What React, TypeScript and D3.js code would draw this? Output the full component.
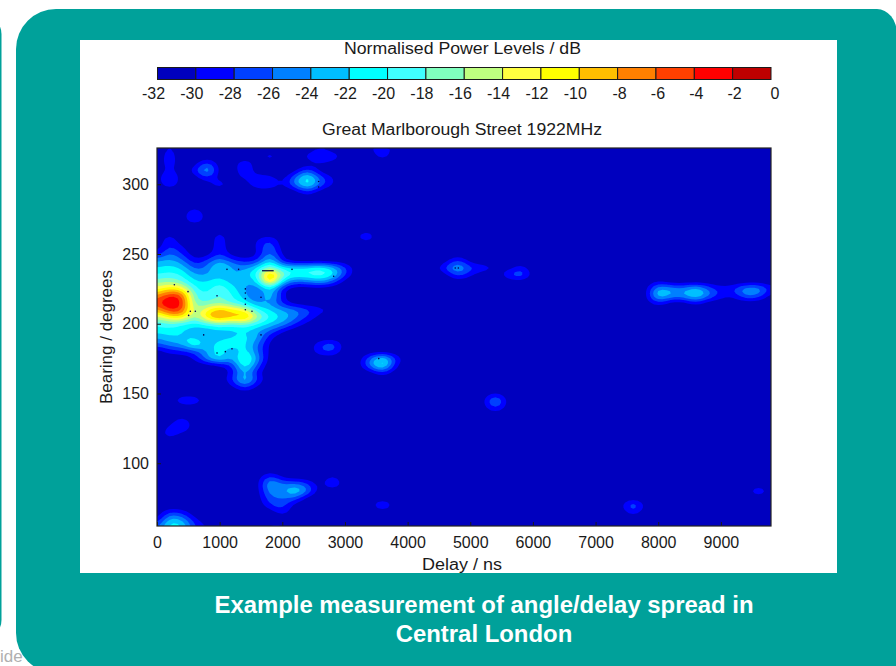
import React from 'react';
import * as d3 from 'd3';

const legendLevels = [-32, -30, -28, -26, -24, -22, -20, -18, -16, -14, -12, -10, -8, -6, -4, -2, 0];
const legendColours = ['#0000bf', '#0000ff', '#0040ff', '#0080ff', '#00bfff', '#00ffff', '#40ffff', '#80ffbf',
  '#bfff80', '#ffff40', '#ffff00', '#ffbf00', '#ff8000', '#ff4000', '#ff0000', '#bf0000'];
const delayTicks = [0, 1000, 2000, 3000, 4000, 5000, 6000, 7000, 8000, 9000];
const bearingTicks = [100, 150, 200, 250, 300];
const captionLines = ['Example measurement of angle/delay spread in', 'Central London'];

const delayStep = 200;
const bearingStep = 5;
const maxDelay = 9800;
const minBearing = 55;
const maxBearing = 325;
const floorLevel = -32;
const refine = 3; // contouring is done on a grid this many times finer, like the original's interpolated plot

const coreSpans: [number, number, number[]][] = [
  [265, 200, [-30, -32, -32, -32, -29]],
  [260, 200, [-28, -32, -32, -32, -28, -32, -32, -30, -27]],
  [255, 200, [-27, -30, -32, -32, -28, -32, -32, -30, -25]],
  [250, 0, [-30, -25, -28, -32, -32, -27, -32, -32, -31, -24, -31]],
  [245, 0, [-24, -23, -25, -30, -27, -24, -27, -29, -29, -20, -30]],
  [240, 0, [-22, -21, -22, -27, -26, -19, -24, -25, -21, -16, -21, -21, -21, -19, -22, -27]],
  [235, 0, [-20, -19, -20, -24, -24, -23, -25, -22, -21, -4, -17, -20, -19, -18, -20, -28]],
  [230, 0, [-17, -16, -18, -22, -22, -20, -23, -24, -23, -7, -23, -27, -26, -24, -27]],
  [225, 0, [-13, -10, -11, -20, -21, -18, -21, -24, -27, -21, -30]],
  [220, 0, [-8, -3, -4, -19, -20, -17, -20, -23, -28, -20, -30]],
  [215, 0, [-5, 0, -3, -18, -18, -17, -19, -21, -25, -24, -29]],
  [210, 0, [-9, -3, -4, -17, -12, -8, -11, -13, -20, -22, -24, -25, -27, -29, -30]],
  [205, 0, [-15, -11, -9, -18, -9, -5, -9, -6, -15, -20, -22, -25, -28, -31]],
  [200, 0, [-20, -18, -20, -21, -19, -17, -19, -17, -20, -22, -24, -28, -31]],
  [195, 0, [-21, -21, -22, -24, -24, -23, -23, -22, -24, -26, -30]],
  [190, 0, [-24, -22, -22, -22, -24, -23, -22, -21, -23, -30]],
  [185, 0, [-27, -25, -24, -18, -24, -20, -21, -21, -26, -31]],
  [180, 200, [-29, -29, -28, -24, -20, -25, -20, -26, -31]],
  [175, 600, [-30, -24, -20, -25, -17, -24]],
  [170, 1000, [-31, -29, -18, -27]],
  [165, 1200, [-30, -22, -30]],
  [160, 1200, [-28, -20, -28]],
  [155, 1200, [-31, -26, -31]],
];

const upperSpans: [number, number, number[]][] = [
  [325, 200, [-29]],
  [320, 200, [-28]],
  [315, 200, [-28]],
  [310, 200, [-29]],
  [305, 200, [-26]],
  [300, 200, [-27]],
  [315, 800, [-26]],
  [310, 600, [-29, -21]],
  [305, 800, [-27]],
  [300, 1000, [-27]],
  [295, 600, [-28]],
  [315, 1400, [-27]],
  [310, 1400, [-27]],
  [305, 1400, [-29]],
  [320, 1800, [-27]],
  [305, 1600, [-29, -29]],
  [300, 1600, [-27, -27, -31, -25, -19, -26, -30]],
  [305, 2200, [-26, -19, -27, -30]],
  [310, 2400, [-26]],
  [295, 2400, [-27]],
  [320, 2400, [-29, -26, -27]],
  [325, 2600, [-30]],
  [315, 2600, [-30]],
  [325, 3400, [-31, -27]],
  [320, 3600, [-28]],
  [280, 600, [-27]],
  [275, 600, [-26]],
];

const midSpans: [number, number, number[]][] = [
  [265, 3200, [-30, -29]],
  [260, 3200, [-30, -29]],
  [245, 4800, [-26]],
  [240, 4600, [-27, -22, -27, -28, -30]],
  [235, 4800, [-26, -30]],
  [235, 5600, [-28, -24]],
  [240, 5800, [-28]],
  [185, 2600, [-28, -25]],
  [180, 2600, [-28, -27]],
  [175, 3400, [-26, -19, -28]],
  [170, 3400, [-25, -18, -30]],
  [165, 3600, [-28]],
  [160, 5200, [-28]],
  [150, 5400, [-30]],
  [145, 5400, [-22]],
  [140, 5400, [-26]],
];

const lowerSpans: [number, number, number[]][] = [
  [145, 400, [-27, -27]],
  [135, 1400, [-28]],
  [130, 1600, [-28]],
  [130, 400, [-27]],
  [125, 200, [-29, -27]],
  [120, 200, [-28]],
  [110, 400, [-28]],
  [140, 2200, [-28]],
  [90, 1800, [-26, -31, -32, -32, -32, -29]],
  [85, 1800, [-22, -26, -25, -27, -32, -26]],
  [80, 1800, [-24, -25, -20, -25]],
  [75, 1800, [-26, -26, -26]],
  [70, 1800, [-28, -26]],
  [70, 3600, [-25]],
  [65, 2000, [-28]],
  [65, 200, [-28, -29]],
  [60, 200, [-22, -24, -30]],
  [55, 0, [-27, -20, -21, -28, -30]],
  [55, 1800, [-29, -29]],
  [70, 7600, [-23]],
  [65, 7600, [-28]],
  [80, 9600, [-26]],
];

const streakSpans: [number, number, number[]][] = [
  [230, 8000, [-30]],
  [225, 8000, [-22, -24, -25, -21, -26, -29, -28, -23, -23, -29]],
  [220, 8000, [-20, -24, -24, -20, -25, -29, -30, -25, -26]],
  [215, 8000, [-28, -32, -32, -29]],
];

// stray black contour points left in the original figure: [delay, bearing]
const strayPoints = [[277, 228], [495, 223], [532, 209], [612, 209], [505, 206], [745, 192], [958, 220],
  [1410, 225], [1410, 222], [1410, 218], [1410, 214], [1410, 210], [1516, 209], [1197, 182], [1091, 180],
  [958, 179], [1303, 239], [1117, 239], [2155, 239], [2820, 234], [1660, 219], [1660, 192], [4760, 240],
  [4810, 240], [3540, 175], [2580, 302], [2580, 298]];
const strayLine = [[1676, 238], [1862, 238]];

const buildGrid = () => {
  const cols = maxDelay / delayStep + 1;
  const rows = (maxBearing - minBearing) / bearingStep + 1;
  const coarse = new Array(cols * rows).fill(floorLevel);
  [...coreSpans, ...upperSpans, ...midSpans, ...lowerSpans, ...streakSpans].forEach(([bearing, start, levels]) => {
    const row = (maxBearing - bearing) / bearingStep;
    levels.forEach((level, i) => {
      const col = start / delayStep + i;
      if (level > floorLevel) coarse[row * cols + col] = level;
    });
  });

  const fineCols = (cols - 1) * refine + 1;
  const fineRows = (rows - 1) * refine + 1;
  const values = new Float64Array(fineCols * fineRows);
  for (let j = 0; j < fineRows; j++) {
    const r0 = Math.floor(j / refine);
    const r1 = Math.min(r0 + 1, rows - 1);
    const v = j / refine - r0;
    for (let i = 0; i < fineCols; i++) {
      const c0 = Math.floor(i / refine);
      const c1 = Math.min(c0 + 1, cols - 1);
      const u = i / refine - c0;
      values[j * fineCols + i] =
        (coarse[r0 * cols + c0] * (1 - u) + coarse[r0 * cols + c1] * u) * (1 - v) +
        (coarse[r1 * cols + c0] * (1 - u) + coarse[r1 * cols + c1] * u) * v;
    }
  }
  d3.blur2({ data: values, width: fineCols, height: fineRows }, 0.7);
  return { cols: fineCols, rows: fineRows, values };
};

export default function App() {
  const svgRef = React.useRef<SVGSVGElement>(null);

  React.useEffect(() => {
    const svg = d3.select(svgRef.current);
    svg.selectAll('*').remove();

    const font = '"Liberation Sans", Arial, sans-serif';
    const teal = '#00a19a';
    const ink = '#1a1a1a';

    const defs = svg.append('defs');
    defs.append('filter').attr('id', 'soft').append('feGaussianBlur').attr('stdDeviation', 0.6);
    defs.append('clipPath').attr('id', 'plotClip').append('rect')
      .attr('x', 157).attr('y', 148).attr('width', 614).attr('height', 378);

    // slide background
    svg.append('rect').attr('width', 896).attr('height', 666).attr('fill', '#ffffff');
    svg.append('rect').attr('x', -40).attr('y', 14).attr('width', 41.5).attr('height', 626)
      .attr('rx', 20).attr('fill', teal);
    svg.append('path')
      .attr('d', 'M16 49 A40 40 0 0 1 56 9 L877 9 A20 25 0 0 1 897 34 L897 673 L56 673 A40 40 0 0 1 16 633 Z')
      .attr('fill', teal);
    svg.append('text').attr('x', 0).attr('y', 662).attr('font-family', font).attr('font-size', 17)
      .attr('fill', '#b0b0b0').text('ide');
    svg.append('rect').attr('x', 80).attr('y', 40).attr('width', 757).attr('height', 533).attr('fill', '#ffffff');

    svg.append('g').attr('fill', '#ffffff').attr('font-family', font).attr('font-weight', 'bold')
      .attr('font-size', 23.9).attr('text-anchor', 'middle')
      .selectAll('text').data(captionLines).join('text')
      .attr('x', 484).attr('y', (d, i) => 613 + i * 28.5).text(d => d);

    const label = (text: string, px: number, py: number, length: number) =>
      svg.append('text').attr('x', px).attr('y', py).attr('text-anchor', 'middle')
        .attr('font-family', font).attr('font-size', 16).attr('fill', ink)
        .attr('textLength', length).attr('lengthAdjust', 'spacingAndGlyphs').text(text);

    // colour legend
    const legendX = d3.scaleLinear().domain([-32, 0]).range([157.5, 771]);
    label('Normalised Power Levels / dB', 462.5, 54, 237);
    svg.append('g').selectAll('rect').data(legendColours).join('rect')
      .attr('x', (d, i) => legendX(legendLevels[i]))
      .attr('y', 67.5)
      .attr('width', (d, i) => legendX(legendLevels[i + 1]) - legendX(legendLevels[i]))
      .attr('height', 12)
      .attr('fill', d => d).attr('stroke', ink).attr('stroke-width', 1);
    svg.append('g').attr('font-family', font).attr('font-size', 16).attr('fill', ink).attr('text-anchor', 'middle')
      .selectAll('text').data(legendLevels).join('text')
      .attr('x', d => legendX(d) + (d <= -10 ? -4 : d === 0 ? 4 : 2))
      .attr('y', 99).text(d => d);

    label('Great Marlborough Street 1922MHz', 462, 135, 280);

    // contour plot
    const x = d3.scaleLinear().domain([0, maxDelay]).range([157, 771]);
    const y = d3.scaleLinear().domain([55, 326]).range([526, 148]);
    const { cols, rows, values } = buildGrid();
    const contours = d3.contours().size([cols, rows]).thresholds(legendLevels.slice(1, -1))(values as any);
    const gridPath = d3.geoPath(d3.geoTransform({
      point(gx, gy) {
        this.stream.point(x(((gx - 0.5) * delayStep) / refine), y(maxBearing - ((gy - 0.5) * bearingStep) / refine));
      },
    }));

    const plot = svg.append('g').attr('clip-path', 'url(#plotClip)');
    const field = plot.append('g').attr('filter', 'url(#soft)');
    field.append('rect').attr('x', 150).attr('y', 140).attr('width', 630).attr('height', 395).attr('fill', legendColours[0]);
    field.selectAll('path').data(contours).join('path')
      .attr('d', d => gridPath(d))
      .attr('fill', (d, i) => legendColours[i + 1]);

    plot.append('g').attr('fill', '#000050').selectAll('circle').data(strayPoints).join('circle')
      .attr('cx', d => x(d[0])).attr('cy', d => y(d[1])).attr('r', 0.8);
    plot.append('path').attr('d', d3.line().x(d => x(d[0])).y(d => y(d[1]))(strayLine as [number, number][]))
      .attr('stroke', '#000040').attr('stroke-width', 1.2);

    // axes
    const xAxis = svg.append('g').attr('transform', 'translate(0,526)')
      .call(d3.axisBottom(x).tickValues(delayTicks).tickFormat(d3.format('d')).tickSize(-4).tickPadding(11));
    const yAxis = svg.append('g').attr('transform', 'translate(157,0)')
      .call(d3.axisLeft(y).tickValues(bearingTicks).tickFormat(d3.format('d')).tickSize(-4).tickPadding(8));
    [xAxis, yAxis].forEach(axis => {
      axis.attr('font-family', font).attr('font-size', 16);
      axis.select('.domain').remove();
      axis.selectAll('line').attr('stroke', ink);
      axis.selectAll('text').attr('fill', ink);
    });
    svg.append('rect').attr('x', 157).attr('y', 148).attr('width', 614).attr('height', 378)
      .attr('fill', 'none').attr('stroke', '#222').attr('stroke-width', 1.2);

    label('Delay / ns', 462, 570, 80);
    svg.append('text').attr('transform', 'translate(112,337) rotate(-90)').attr('text-anchor', 'middle')
      .attr('font-family', font).attr('font-size', 16).attr('fill', ink)
      .attr('textLength', 134).attr('lengthAdjust', 'spacingAndGlyphs').text('Bearing / degrees');
  }, []);

  return <svg ref={svgRef} width={896} height={666} style={{ position: 'fixed', left: 0, top: 0 }} />;
}
